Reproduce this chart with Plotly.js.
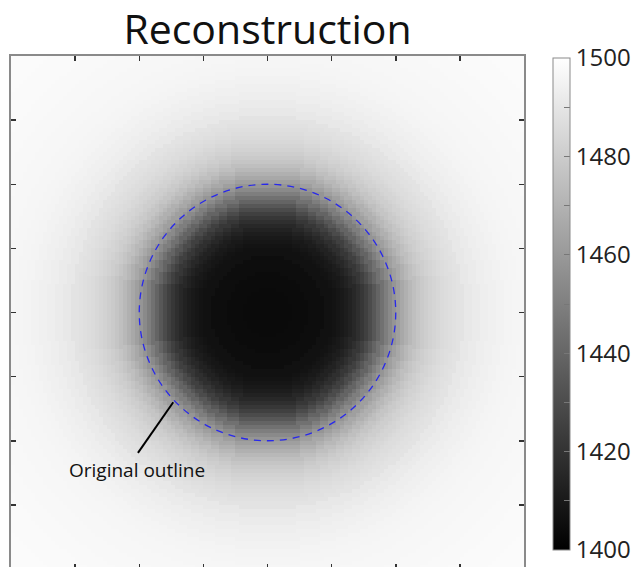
<!DOCTYPE html>
<html>
<head>
<meta charset="utf-8">
<script src="https://cdn.plot.ly/plotly-3.0.1.min.js"></script>
<style>
html,body{margin:0;padding:0;overflow:hidden;background:#fff;}
#chart{width:636px;height:572px;}
</style>
</head>
<body>
<div id="chart"></div>
<script>
// Radial intensity profile (distance from the disk centre, in axis units -> value)
const profileR = [0, 0.25, 0.5, 0.75,
  1.0, 1.0625, 1.125, 1.1875, 1.25, 1.3125, 1.375, 1.4375, 1.5, 1.5625, 1.625, 1.6875,
  1.75, 1.8125, 1.875, 1.9375, 2.0, 2.0625, 2.125, 2.1875, 2.25, 2.3125, 2.375, 2.4375,
  2.5, 2.5625, 2.625, 2.6875, 2.75, 2.8125, 2.875, 2.9375, 3.0,
  3.125, 3.25, 3.375, 3.5, 3.625, 3.75, 3.875, 4.0, 4.25, 4.5, 4.75, 5.0, 5.5, 5.75];
const profileV = [1403.9, 1403.9, 1404.3, 1405.1,
  1406.7, 1407.5, 1408.6, 1409.8, 1411.4, 1413.3, 1415.7, 1418.4, 1421.6, 1425.1, 1429.4, 1434.1,
  1439.2, 1444.3, 1449.4, 1454.1, 1458.4, 1462.4, 1465.9, 1469.0, 1472.2, 1474.9, 1477.3, 1479.2,
  1480.8, 1482.4, 1483.5, 1484.7, 1485.9, 1486.7, 1487.5, 1488.2, 1489.0,
  1491.0, 1492.2, 1493.3, 1494.1, 1494.9, 1495.7, 1496.1, 1496.5, 1496.9, 1497.3, 1497.6, 1498.0, 1498.4, 1498.4];

const centre = [4, 4];
const outlineRadius = 2;
const gridN = 128;
const axisMax = 8;
const tickVals = [1, 2, 3, 4, 5, 6, 7];
const cbTickVals = [1400, 1410, 1420, 1430, 1440, 1450, 1460, 1470, 1480, 1490, 1500];
const cbTickText = ['1400', '', '1420', '', '1440', '', '1460', '', '1480', '', '1500'];
const labelText = 'Original outline';
const labelPos = [1.97, 1.54];
const pointerFrom = [1.98, 1.81];
const pointerTo = [2.53, 2.60];

function profileAt(r) {
  let best = 0;
  for (let k = 1; k < profileR.length; k++) {
    if (Math.abs(profileR[k] - r) < Math.abs(profileR[best] - r)) best = k;
  }
  return profileV[best];
}

const step = axisMax / gridN;
const xs = [], ys = [], z = [];
for (let i = 0; i < gridN; i++) { xs.push((i + 0.5) * step); ys.push((i + 0.5) * step); }
for (let j = 0; j < gridN; j++) {
  const row = [];
  for (let i = 0; i < gridN; i++) {
    const r = Math.hypot(xs[i] - centre[0], ys[j] - centre[1]);
    row.push(profileAt(r));
  }
  z.push(row);
}

const FONT = '"Open Sans", "DejaVu Sans", sans-serif';

const trace = {
  type: 'heatmap', x: xs, y: ys, z: z,
  zmin: 1400, zmax: 1500,
  colorscale: [[0, 'rgb(0,0,0)'], [1, 'rgb(255,255,255)']],
  hoverinfo: 'skip',
  colorbar: {
    xref: 'container', x: 553 / 636, xanchor: 'left', xpad: 0,
    yref: 'paper', y: (569 - 304) / 513, yanchor: 'middle', ypad: 0,
    len: 492, lenmode: 'pixels', thickness: 17,
    outlinecolor: '#8a8a8a', outlinewidth: 1,
    tickmode: 'array', tickvals: cbTickVals, ticktext: cbTickText,
    ticks: 'inside', ticklen: 6, tickcolor: '#777', tickwidth: 1,
    tickfont: {family: FONT, size: 24, color: '#222'}
  }
};

const axisCommon = {
  range: [0, axisMax], tickmode: 'array', tickvals: tickVals, showticklabels: false,
  ticks: 'inside', ticklen: 5, tickwidth: 1.5, tickcolor: '#333',
  showline: true, linecolor: '#8a8a8a', linewidth: 2, mirror: 'ticks',
  showgrid: false, zeroline: false, fixedrange: true
};

const layout = {
  width: 636, height: 572,
  margin: {l: 11, r: 112, t: 56, b: 3, autoexpand: false},
  paper_bgcolor: '#fff', plot_bgcolor: '#fff',
  title: {text: 'Reconstruction', font: {family: FONT, size: 41, color: '#111'},
    x: 0.5, xref: 'paper', y: 1 - 30 / 572, yref: 'container', yanchor: 'middle'},
  xaxis: Object.assign({}, axisCommon),
  yaxis: Object.assign({}, axisCommon),
  shapes: [
    {type: 'circle', xref: 'x', yref: 'y',
      x0: centre[0] - outlineRadius, x1: centre[0] + outlineRadius,
      y0: centre[1] - outlineRadius, y1: centre[1] + outlineRadius,
      line: {color: 'rgb(40,40,235)', width: 1.3, dash: '7px,6px'}},
    {type: 'line', xref: 'x', yref: 'y',
      x0: pointerFrom[0], y0: pointerFrom[1], x1: pointerTo[0], y1: pointerTo[1],
      line: {color: '#000', width: 2}}
  ],
  annotations: [
    {text: labelText, x: labelPos[0], y: labelPos[1], xref: 'x', yref: 'y', showarrow: false,
      font: {family: FONT, size: 19, color: '#111'}}
  ]
};

Plotly.newPlot('chart', [trace], layout, {displayModeBar: false, staticPlot: true});
</script>
</body>
</html>
